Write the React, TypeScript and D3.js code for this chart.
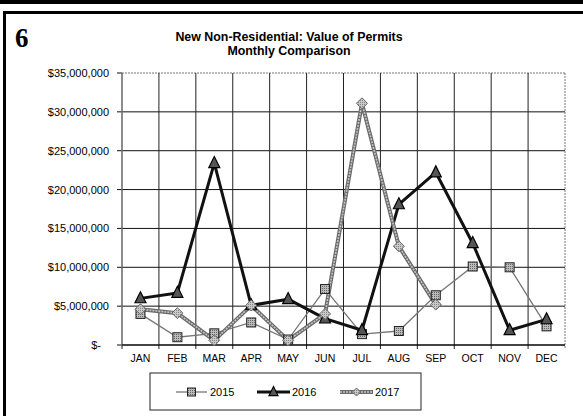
import React from "react";
import * as d3 from "d3";

const months = ["JAN", "FEB", "MAR", "APR", "MAY", "JUN", "JUL", "AUG", "SEP", "OCT", "NOV", "DEC"];
const values2015 = [4.0, 1.0, 1.5, 2.9, 0.7, 7.2, 1.4, 1.8, 6.4, 10.1, 10.0, 2.4].map((v) => v * 1e6);
const values2016 = [6.0, 6.7, 23.4, 5.1, 5.9, 3.4, 1.9, 18.1, 22.2, 13.1, 1.9, 3.3].map((v) => v * 1e6);
const values2017 = [4.6, 4.1, 0.6, 5.1, 0.6, 4.0, 31.1, 12.7, 5.2].map((v) => v * 1e6);
const yTicks = [0, 5e6, 10e6, 15e6, 20e6, 25e6, 30e6, 35e6];
const seriesNames = ["2015", "2016", "2017"];

const W = 583;
const H = 416;
const plot = { left: 122, right: 565, top: 73, bottom: 345 };
const FONT = "'Liberation Sans', Arial, sans-serif";

const x = d3.scaleBand<string>().domain(months).range([plot.left, plot.right]).paddingInner(0).paddingOuter(0);
const y = d3.scaleLinear().domain([0, 35e6]).range([plot.bottom, plot.top]);
const cx = (i: number) => (x(months[i]) as number) + x.bandwidth() / 2;

const fmt = (v: number) => (v === 0 ? "$-" : "$" + d3.format(",")(v));

function linePath(vals: number[]) {
  const gen = d3
    .line<number>()
    .x((_, i) => cx(i))
    .y((d) => y(d));
  return gen(vals) || "";
}

const Square = ({ px, py, s = 9 }: { px: number; py: number; s?: number }) => (
  <rect x={px - s / 2} y={py - s / 2} width={s} height={s} fill="url(#dots)" stroke="#222" strokeWidth={1} />
);
const Triangle = ({ px, py, s = 11 }: { px: number; py: number; s?: number }) => (
  <path
    d={`M${px},${py - s * 0.6}L${px + s / 2},${py + s * 0.4}L${px - s / 2},${py + s * 0.4}Z`}
    fill="#555"
    stroke="#000"
    strokeWidth={1.2}
  />
);
const Diamond = ({ px, py, s = 11 }: { px: number; py: number; s?: number }) => (
  <path
    d={`M${px},${py - s / 2}L${px + s / 2},${py}L${px},${py + s / 2}L${px - s / 2},${py}Z`}
    fill="url(#dots2)"
    stroke="#666"
    strokeWidth={1}
  />
);

export default function App() {
  const legendY = 392;
  return (
    <svg
      width={W}
      height={H}
      viewBox={`0 0 ${W} ${H}`}
      style={{ position: "absolute", left: 0, top: 0, background: "#fff" }}
    >
      <defs>
        <pattern id="dots" width="2" height="2" patternUnits="userSpaceOnUse">
          <rect width="2" height="2" fill="#bbb" />
          <rect width="1" height="1" fill="#666" />
        </pattern>
        <pattern id="dots2" width="2" height="2" patternUnits="userSpaceOnUse">
          <rect width="2" height="2" fill="#c8c8c8" />
          <rect width="1" height="1" fill="#888" />
        </pattern>
      </defs>
      <rect width={W} height={H} fill="#fff" />
      {/* frame */}
      <rect x={0} y={0} width={W} height={4} fill="#000" />
      <rect x={3} y={11} width={W - 3} height={3} fill="#000" />
      <rect x={3} y={11} width={3} height={H - 11} fill="#000" />

      <text x={15} y={47} fontFamily="'Liberation Serif', 'DejaVu Serif', serif" fontWeight="bold" fontSize={27}>
        6
      </text>
      <text x={289} y={41} textAnchor="middle" fontFamily={FONT} fontWeight="bold" fontSize={12.4}>
        New Non-Residential: Value of Permits
      </text>
      <text x={289} y={55} textAnchor="middle" fontFamily={FONT} fontWeight="bold" fontSize={12.4}>
        Monthly Comparison
      </text>

      {/* gridlines */}
      {yTicks.map((t) => (
        <g key={t}>
          <line
            x1={plot.left}
            x2={plot.right}
            y1={y(t)}
            y2={y(t)}
            stroke={t === 35e6 ? "#777" : "#111"}
            strokeWidth={1}
            strokeDasharray={t === 35e6 ? "2,1" : undefined}
          />
          <line x1={plot.left - 5} x2={plot.left} y1={y(t)} y2={y(t)} stroke="#111" />
          <text
            x={t === 0 ? 101 : 109}
            y={y(t) + 4}
            textAnchor="end"
            fontFamily={FONT}
            fontSize={11}
          >
            {fmt(t)}
          </text>
        </g>
      ))}
      {months.map((m, i) => (
        <g key={m}>
          {i > 0 && (
            <line
              x1={x(m) as number}
              x2={x(m) as number}
              y1={plot.top}
              y2={plot.bottom + 4}
              stroke="#222"
              strokeWidth={1}
            />
          )}
          <text x={cx(i)} y={362} textAnchor="middle" fontFamily={FONT} fontSize={10.5}>
            {m}
          </text>
        </g>
      ))}
      <line x1={plot.left} x2={plot.left} y1={plot.top} y2={plot.bottom + 4} stroke="#666" strokeWidth={1.5} />
      <line x1={plot.right} x2={plot.right} y1={plot.top} y2={plot.bottom + 4} stroke="#777" strokeDasharray="2,1" />
      <line x1={plot.left} x2={plot.right} y1={plot.bottom} y2={plot.bottom} stroke="#000" strokeWidth={1.2} />

      {/* 2015 */}
      <path d={linePath(values2015)} fill="none" stroke="#777" strokeWidth={1.3} />
      {/* 2016 */}
      <path d={linePath(values2016)} fill="none" stroke="#111" strokeWidth={3} strokeLinejoin="round" />
      {/* 2017 */}
      <path d={linePath(values2017)} fill="none" stroke="#6a6a6a" strokeWidth={4} strokeLinejoin="round" />
      <path d={linePath(values2017)} fill="none" stroke="#c4c4c4" strokeWidth={1.6} strokeDasharray="2,1" strokeLinejoin="round" />

      {values2015.map((v, i) => (
        <Square key={"a" + i} px={cx(i)} py={y(v)} />
      ))}
      {values2016.map((v, i) => (
        <Triangle key={"b" + i} px={cx(i)} py={y(v)} />
      ))}
      {values2017.map((v, i) => (
        <Diamond key={"c" + i} px={cx(i)} py={y(v)} />
      ))}

      {/* legend */}
      <rect x={150} y={373} width={271} height={37} fill="#fff" stroke="#222" strokeWidth={1} />
      <line x1={176} x2={207} y1={legendY} y2={legendY} stroke="#777" strokeWidth={1.3} />
      <Square px={191.5} py={legendY} s={8} />
      <text x={210} y={legendY + 4} fontFamily={FONT} fontSize={11}>
        {seriesNames[0]}
      </text>
      <line x1={257} x2={290} y1={legendY} y2={legendY} stroke="#111" strokeWidth={3} />
      <Triangle px={273.5} py={legendY} s={9} />
      <text x={292} y={legendY + 4} fontFamily={FONT} fontSize={11}>
        {seriesNames[1]}
      </text>
      <line x1={340} x2={373} y1={legendY} y2={legendY} stroke="#6a6a6a" strokeWidth={4} />
      <line x1={340} x2={373} y1={legendY} y2={legendY} stroke="#c4c4c4" strokeWidth={1.6} strokeDasharray="2,1" />
      <Diamond px={356.5} py={legendY} s={8} />
      <text x={375} y={legendY + 4} fontFamily={FONT} fontSize={11}>
        {seriesNames[2]}
      </text>
    </svg>
  );
}
